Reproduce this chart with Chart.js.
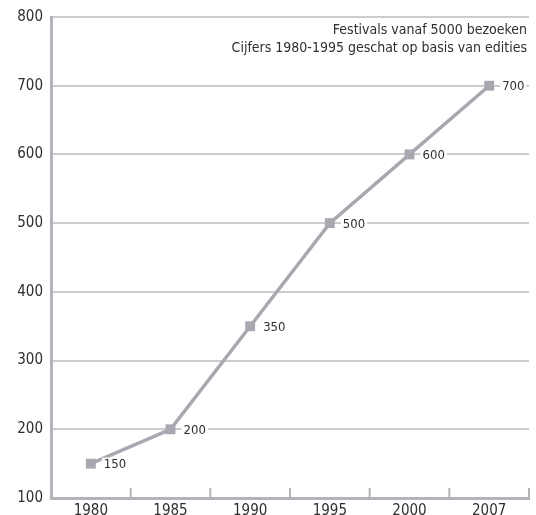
<!DOCTYPE html>
<html>
<head>
<meta charset="utf-8">
<script src="https://cdn.jsdelivr.net/npm/chart.js@4.4.1/dist/chart.umd.min.js"></script>
<style>
  html, body { margin: 0; padding: 0; background: #fff; }
  #wrap { width: 536px; height: 515px; }
</style>
</head>
<body>
<div id="wrap"><canvas id="chart" width="536" height="515"></canvas></div>
<script>
const jaren = ['1980', '1985', '1990', '1995', '2000', '2007'];
const festivals = [150, 200, 350, 500, 600, 700];
const yTicks = [100, 200, 300, 400, 500, 600, 700, 800];
const notities = ['Festivals vanaf 5000 bezoeken', 'Cijfers 1980-1995 geschat op basis van edities'];

const lijnKleur = '#aba7b1';
const asKleur = '#b5b2ba';
const rasterKleur = '#cdcbd0';
const tekstKleur = '#2f2f2f';
const lettertype = '"DejaVu Sans Condensed", "DejaVu Sans", sans-serif';

// --- kleine streepjes omhoog op de x-as, tussen de jaren ---
const asStreepjes = {
  id: 'asStreepjes',
  afterDraw(chart) {
    const { ctx, chartArea } = chart;
    const x = chart.scales.x;
    const half = (x.getPixelForValue(1) - x.getPixelForValue(0)) / 2;
    ctx.save();
    ctx.strokeStyle = asKleur;
    ctx.lineWidth = 2;
    for (let i = 0; i < jaren.length; i++) {
      const px = x.getPixelForValue(i) + half;
      ctx.beginPath();
      ctx.moveTo(px, chartArea.bottom);
      ctx.lineTo(px, chartArea.bottom - 10);
      ctx.stroke();
    }
    ctx.restore();
  }
};

// --- waarden naast de punten ---
const waardeLabels = {
  id: 'waardeLabels',
  afterDatasetsDraw(chart) {
    const { ctx } = chart;
    const meta = chart.getDatasetMeta(0);
    ctx.save();
    ctx.font = '13px ' + lettertype;
    ctx.textBaseline = 'middle';
    ctx.textAlign = 'left';
    meta.data.forEach((pt, i) => {
      const txt = String(festivals[i]);
      const w = ctx.measureText(txt).width;
      const lx = pt.x + 13;
      ctx.fillStyle = '#fff';
      ctx.fillRect(lx - 2, pt.y - 6, w + 4, 12);
      ctx.fillStyle = tekstKleur;
      ctx.fillText(txt, lx, pt.y + 1);
    });
    ctx.restore();
  }
};

// --- notitie rechtsboven ---
const notitieTekst = {
  id: 'notitieTekst',
  afterDraw(chart) {
    const { ctx, chartArea } = chart;
    ctx.save();
    ctx.font = '14px ' + lettertype;
    ctx.fillStyle = tekstKleur;
    ctx.textAlign = 'right';
    ctx.textBaseline = 'middle';
    notities.forEach((t, i) => {
      ctx.fillText(t, chartArea.right - 2, chartArea.top + 13 + i * 18);
    });
    ctx.restore();
  }
};

new Chart(document.getElementById('chart'), {
  type: 'line',
  data: {
    labels: jaren,
    datasets: [{
      data: festivals,
      borderColor: lijnKleur,
      backgroundColor: lijnKleur,
      borderWidth: 3.5,
      pointStyle: 'rect',
      pointRadius: 7,
      pointBorderWidth: 0,
      tension: 0
    }]
  },
  options: {
    responsive: false,
    animation: false,
    layout: { padding: { top: 16, right: 4, left: 0, bottom: 0 } },
    plugins: { legend: { display: false }, tooltip: { enabled: false } },
    scales: {
      x: {
        offset: true,
        grid: { display: false },
        border: { color: asKleur, width: 3 },
        ticks: { color: tekstKleur, font: { family: lettertype, size: 15 }, padding: -4, maxRotation: 0 },
        afterFit(s) { s.height = 17; }
      },
      y: {
        min: 100,
        max: 800,
        afterBuildTicks(s) { s.ticks = yTicks.map(v => ({ value: v })); },
        grid: { color: rasterKleur, lineWidth: 2, drawTicks: false },
        border: { color: asKleur, width: 3 },
        ticks: { color: tekstKleur, font: { family: lettertype, size: 15 }, padding: 8 },
        afterFit(s) { s.width = 51; }
      }
    }
  },
  plugins: [asStreepjes, waardeLabels, notitieTekst]
});
</script>
</body>
</html>
